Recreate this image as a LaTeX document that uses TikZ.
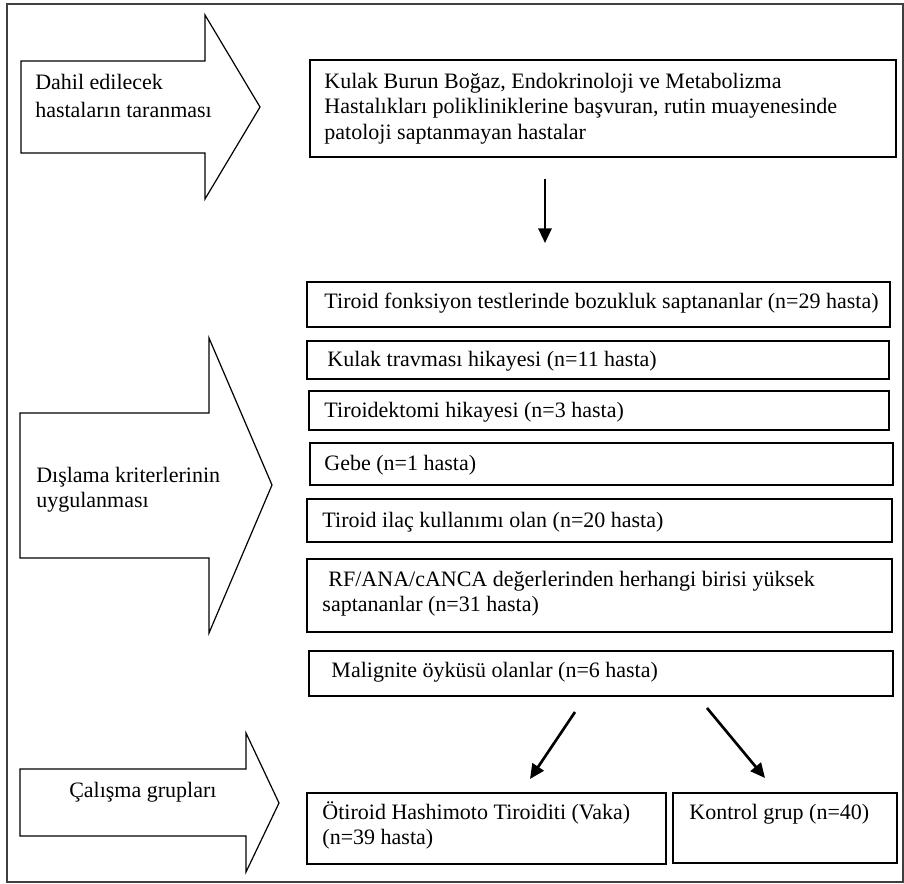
\documentclass[tikz,border=0pt]{standalone}
\usepackage{fontspec}
\setmainfont{Liberation Serif}
\usetikzlibrary{arrows.meta,calc,fit}

\begin{document}
\begin{tikzpicture}[x=0.75pt,y=0.75pt,yscale=-1,xscale=1,
    box/.style={draw, line width=1.2pt, inner sep=0pt},
    txt/.style={anchor=west, inner sep=0pt, align=left, font=\fontsize{16.5}{19}\selectfont},
    bigarrow/.style={draw, line width=0.9pt, line join=miter},
    flow/.style={draw, line width=1.6pt, -{Triangle[length=11pt,width=10pt]}}]

    \useasboundingbox (0,0) rectangle (904,884);
    \draw [line width=0.8pt, color=black!75] (7,4) rectangle (903,882);

    % stage arrows on the left
    \draw [bigarrow] (21,61) -- (205,61) -- (205,15) -- (260,107) -- (205,199) -- (205,153) -- (21,153) -- cycle ;
    \draw [bigarrow] (20,413) -- (209,413) -- (209,338) -- (272,485) -- (209,633) -- (209,558) -- (20,558) -- cycle ;
    \draw [bigarrow] (20,769) -- (246,769) -- (246,733) -- (279,803) -- (246,872) -- (246,836) -- (20,836) -- cycle ;

    \node [txt, font=\fontsize{16.5}{21}\selectfont] (stagescreen) at (35,96) {Dahil edilecek\\hastaların taranması};
    \node [txt] (stageexcl) at (36,490) {Dışlama kriterlerinin\\uygulanması};
    \node [txt] (stagegroup) at (69,792) {Çalışma grupları};

    % boxes
    \node [box, fit={(310,60) (896,157)}] (screen) {};
    \node [box, fit={(307,282) (890,327)}] (tft) {};
    \node [box, fit={(307,341) (889,379)}] (trauma) {};
    \node [box, fit={(309,391) (889,430)}] (thyrect) {};
    \node [box, fit={(310,443) (893,485)}] (preg) {};
    \node [box, fit={(307,499) (892,542)}] (drug) {};
    \node [box, fit={(307,559) (892,632)}] (autoab) {};
    \node [box, fit={(309,651) (893,696)}] (malign) {};
    \node [box, fit={(307,793) (666,864)}] (case) {};
    \node [box, fit={(673,793) (897,863)}] (ctrl) {};

    \node [txt] (screentxt) at ($(screen.west)+(15,0)$) {Kulak Burun Boğaz, Endokrinoloji ve Metabolizma\\Hastalıkları polikliniklerine başvuran, rutin muayenesinde\\patoloji saptanmayan hastalar};
    \node [txt] (tfttxt) at ($(tft.west)+(18,-1.5)$) {Tiroid fonksiyon testlerinde bozukluk saptananlar (n=29 hasta)};
    \node [txt] (traumatxt) at ($(trauma.west)+(21,1)$) {Kulak travması hikayesi (n=11 hasta)};
    \node [txt] (thyrecttxt) at ($(thyrect.west)+(16,1.5)$) {Tiroidektomi hikayesi (n=3 hasta)};
    \node [txt] (pregtxt) at ($(preg.west)+(15,1)$) {Gebe (n=1 hasta)};
    \node [txt] (drugtxt) at ($(drug.west)+(16,1.5)$) {Tiroid ilaç kullanımı olan (n=20 hasta)};
    \node [txt] (autoabtxt) at ($(autoab.west)+(16,-2)$) {\hspace*{4.5pt}RF/ANA/cANCA değerlerinden herhangi birisi yüksek\\saptananlar (n=31 hasta)};
    \node [txt] (maligntxt) at ($(malign.west)+(23,-1)$) {Malignite öyküsü olanlar (n=6 hasta)};
    \node [txt] (casetxt) at ($(case.west)+(16,-3)$) {Ötiroid Hashimoto Tiroiditi (Vaka)\\(n=39 hasta)};
    \node [txt] (ctrltxt) at ($(ctrl.north west)+(17,22)$) {Kontrol grup (n=40)};

    % flow arrows
    \coordinate (down0) at (545,179);
    \coordinate (down1) at (545,243);
    \coordinate (left0) at (575,712);
    \coordinate (left1) at (530,779);
    \coordinate (right0) at (707,708);
    \coordinate (right1) at (765,778);
    \draw [flow] (down0) -- (down1);
    \draw [flow, line width=2pt] (left0) -- (left1);
    \draw [flow, line width=2pt] (right0) -- (right1);
\end{tikzpicture}
\end{document}
